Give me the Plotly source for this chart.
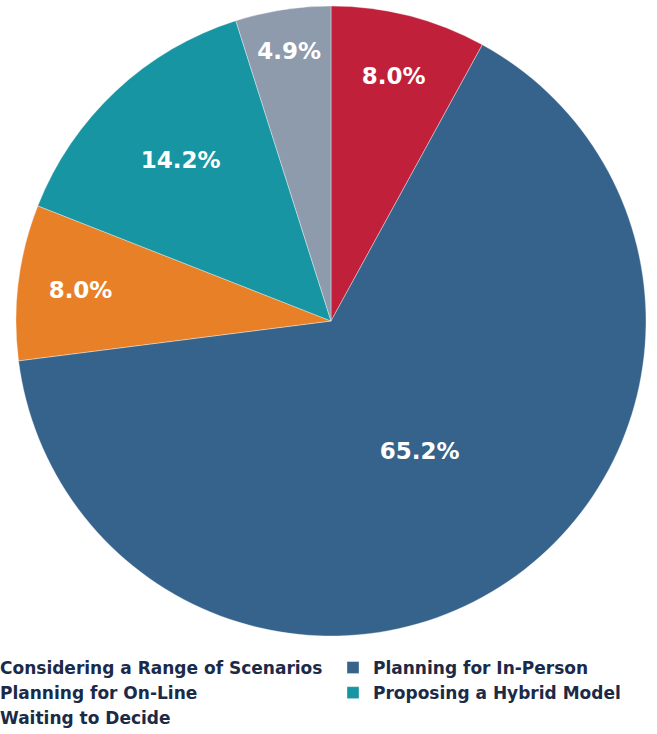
import plotly.graph_objects as go

labels = ["Considering a Range of Scenarios", "Planning for In-Person", "Planning for On-Line",
          "Proposing a Hybrid Model", "Waiting to Decide"]
values = [8.0, 65.2, 8.0, 14.2, 4.9]
text_labels = ["8.0%", "65.2%", "8.0%", "14.2%", "4.9%"]
colors = ["#C1203A", "#35638B", "#E88027", "#1795A2", "#8E9BAC"]

W, H = 800, 734          # canvas wider than the 657px window; right part is off-screen
B = 90                   # bottom margin holding the legend
PH = H - B
fig = go.Figure(go.Pie(
    labels=labels, values=values, text=text_labels,
    textinfo="text", textposition="inside", insidetextorientation="horizontal",
    sort=False, direction="clockwise", rotation=0,
    marker=dict(colors=colors, line=dict(color="rgba(255,255,255,0.6)", width=0.6)),
    textfont=dict(family="DejaVu Sans", size=23, color="white", weight="bold"),
    domain=dict(x=[16 / W, 646 / W], y=[1 - 636 / PH, 1 - 6 / PH]),
    hoverinfo="label+percent",
))
fig.update_layout(
    width=W, height=H, margin=dict(l=0, r=0, t=0, b=B, autoexpand=False),
    paper_bgcolor="white", plot_bgcolor="white",
    showlegend=True,
    legend=dict(orientation="h", x=-40 / W, xanchor="left", y=-(650 - PH) / PH, yanchor="top",
                entrywidth=328, entrywidthmode="pixels", traceorder="normal",
                font=dict(family="DejaVu Sans", size=17, color="#1B2A47", weight="bold"),
                bgcolor="rgba(0,0,0,0)"),
)
fig.write_html("out.html",
               post_script="document.documentElement.style.overflow='hidden';"
                           "document.body.style.overflow='hidden';")
